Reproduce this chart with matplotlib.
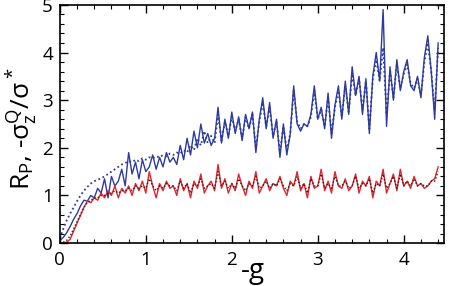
import numpy as np
import matplotlib
matplotlib.use('Agg')
import matplotlib.pyplot as plt
from matplotlib.ticker import MultipleLocator

plt.rcParams['font.family'] = ['Open Sans', 'DejaVu Sans']
plt.rcParams['mathtext.fontset'] = 'custom'
plt.rcParams['mathtext.rm'] = 'Open Sans'
plt.rcParams['mathtext.it'] = 'Open Sans:italic'

# -g grid (step 0.04)
g = np.linspace(0, 4.40, 111)

# R_P (blue solid)
rp = [0.05, 0.12, 0.22, 0.35, 0.5, 0.62, 0.78, 0.9, 0.88, 1.0,
      0.95, 1.15, 1.05, 1.35, 0.95, 1.4, 1.2, 1.3, 1.55, 1.2,
      1.9, 1.45, 1.7, 1.35, 1.75, 1.5, 1.6, 1.85, 1.55, 1.8,
      1.6, 1.9, 1.7, 1.8, 1.65, 2.05, 1.75, 2.2, 1.85, 2.35,
      2.0, 2.5, 2.1, 2.3, 2.05, 2.2, 2.85, 2.1, 2.6, 2.2,
      2.75, 2.3, 2.65, 2.15, 2.7, 2.4, 2.75, 1.9, 2.6, 3.05,
      2.4, 2.95, 2.2, 2.6, 1.8, 2.5, 1.85, 2.3, 3.3, 2.5,
      2.35, 2.5, 2.45, 2.7, 3.3, 2.6, 2.85, 2.4, 3.15, 2.2,
      2.9, 3.3, 2.6, 3.4, 2.7, 3.7, 3.1, 3.5, 2.7, 3.45,
      2.3, 3.5, 4.0, 3.4, 4.9, 2.45, 3.7, 3.0, 3.85, 3.2,
      3.6, 3.85, 3.3, 3.2, 3.5, 3.05, 3.9, 4.35, 3.6, 2.6,
      4.2]

# -sigma_z^Q / sigma^* (blue dotted)
sq = [0.1, 0.3, 0.48, 0.62, 0.75, 0.88, 1.0, 1.1, 1.18, 1.25,
      1.3, 1.33, 1.36, 1.4, 1.45, 1.5, 1.55, 1.6, 1.65, 1.68,
      1.72, 1.7, 1.75, 1.72, 1.78, 1.75, 1.8, 1.78, 1.82, 1.8,
      1.85, 1.82, 1.88, 1.85, 1.9, 1.88, 1.95, 1.9, 2.05, 1.95,
      2.2, 2.05, 2.35, 2.1, 2.25, 2.1, 2.7, 2.15, 2.55, 2.25,
      2.65, 2.35, 2.6, 2.2, 2.65, 2.4, 2.7, 2.0, 2.55, 2.95,
      2.45, 2.85, 2.25, 2.55, 1.9, 2.45, 1.95, 2.3, 3.2, 2.55,
      2.4, 2.5, 2.45, 2.65, 3.2, 2.6, 2.8, 2.45, 3.05, 2.3,
      2.85, 3.2, 2.65, 3.3, 2.75, 3.55, 3.1, 3.45, 2.8, 3.4,
      2.4, 3.45, 3.85, 3.4, 4.1, 2.7, 3.6, 3.05, 3.75, 3.25,
      3.55, 3.75, 3.35, 3.25, 3.45, 3.1, 3.8, 4.2, 3.6, 2.8,
      4.1]

# R_P (red solid)
rp_red = [0.0, 0.0, 0.02, 0.08, 0.25, 0.42, 0.58, 0.75, 0.88, 0.85,
          0.95, 0.9, 1.05, 0.95, 1.1, 1.0, 1.2, 0.95, 1.15, 1.05,
          1.2, 1.0, 1.25, 1.1, 1.3, 1.05, 1.5, 1.2, 0.95, 1.25,
          1.1, 1.3, 1.15, 1.2, 1.0, 1.35, 1.1, 1.25, 0.95, 1.3,
          1.15, 1.45, 1.05, 1.2, 1.3, 1.1, 1.65, 1.15, 1.35, 1.05,
          1.25, 1.1, 1.45, 1.2, 1.0, 1.3, 1.15, 1.5, 1.05, 1.2,
          1.35, 1.1, 1.25, 1.2, 1.4, 1.15, 1.0, 1.3, 1.2, 1.5,
          1.1, 1.25, 0.95, 1.4, 1.15, 1.2, 1.55, 1.1, 1.3, 1.05,
          1.5, 1.2, 1.15, 1.35, 1.1, 1.2, 1.45, 1.05, 1.3, 1.2,
          1.4, 0.95, 1.3, 1.2, 1.55, 1.05, 1.25, 1.45, 1.1, 1.55,
          1.2, 1.3, 1.15, 1.4, 1.2, 1.25, 1.15, 1.2, 1.3, 1.35,
          1.6]

# -sigma_z^Q / sigma^* (black dotted)
sq_black = [0.0, 0.02, 0.06, 0.15, 0.3, 0.45, 0.6, 0.75, 0.85, 0.9,
            0.95, 0.95, 1.0, 1.0, 1.05, 1.05, 1.1, 1.05, 1.1, 1.1,
            1.15, 1.1, 1.2, 1.15, 1.2, 1.15, 1.35, 1.2, 1.1, 1.2,
            1.15, 1.25, 1.2, 1.2, 1.1, 1.3, 1.15, 1.25, 1.05, 1.25,
            1.2, 1.35, 1.15, 1.2, 1.25, 1.15, 1.5, 1.2, 1.3, 1.15,
            1.25, 1.15, 1.35, 1.2, 1.1, 1.25, 1.2, 1.4, 1.15, 1.2,
            1.3, 1.15, 1.25, 1.2, 1.35, 1.2, 1.1, 1.25, 1.2, 1.4,
            1.15, 1.25, 1.05, 1.35, 1.2, 1.2, 1.45, 1.15, 1.25, 1.15,
            1.4, 1.2, 1.2, 1.3, 1.15, 1.2, 1.4, 1.15, 1.25, 1.2,
            1.35, 1.05, 1.25, 1.2, 1.45, 1.15, 1.25, 1.4, 1.15, 1.45,
            1.2, 1.3, 1.2, 1.35, 1.2, 1.25, 1.2, 1.2, 1.3, 1.3,
            1.5]

blue = '#2e3b9e'
red = '#e8222b'

fig = plt.figure(figsize=(4.5, 2.86), dpi=100)
ax = fig.add_axes([0.133, 0.150, 0.854, 0.833])

ax.plot(g, rp, color=blue, lw=1.0)
ax.plot(g, sq, color=blue, lw=1.3, ls=(0, (1, 1.5)))
ax.plot(g, rp_red, color=red, lw=1.0)
ax.plot(g, sq_black, color='#3a1a1a', lw=1.0, ls=(0, (1, 1.5)))

ax.set_xlim(0, 4.47)
ax.set_ylim(0, 5)
ax.xaxis.set_major_locator(MultipleLocator(1))
ax.xaxis.set_minor_locator(MultipleLocator(0.2))
ax.yaxis.set_major_locator(MultipleLocator(1))
ax.yaxis.set_minor_locator(MultipleLocator(0.2))
ax.tick_params(which='both', direction='in', top=True, right=True, labelsize=13.5)
ax.tick_params(axis='x', pad=5.5)
ax.tick_params(axis='y', pad=5)
ax.tick_params(which='major', length=6, width=1)
ax.tick_params(which='minor', length=3, width=0.8)
for s in ax.spines.values():
    s.set_linewidth(1.2)

ax.set_xlabel('-g', fontsize=20)
ax.xaxis.set_label_coords(0.503, -0.06)
ax.set_ylabel(r'R$_\mathrm{P}$, -σ$_\mathrm{z}^\mathrm{Q}$/σ$^*$', fontsize=19)
ax.yaxis.set_label_coords(-0.052, 0.48)

plt.savefig('out.png', dpi=100)
